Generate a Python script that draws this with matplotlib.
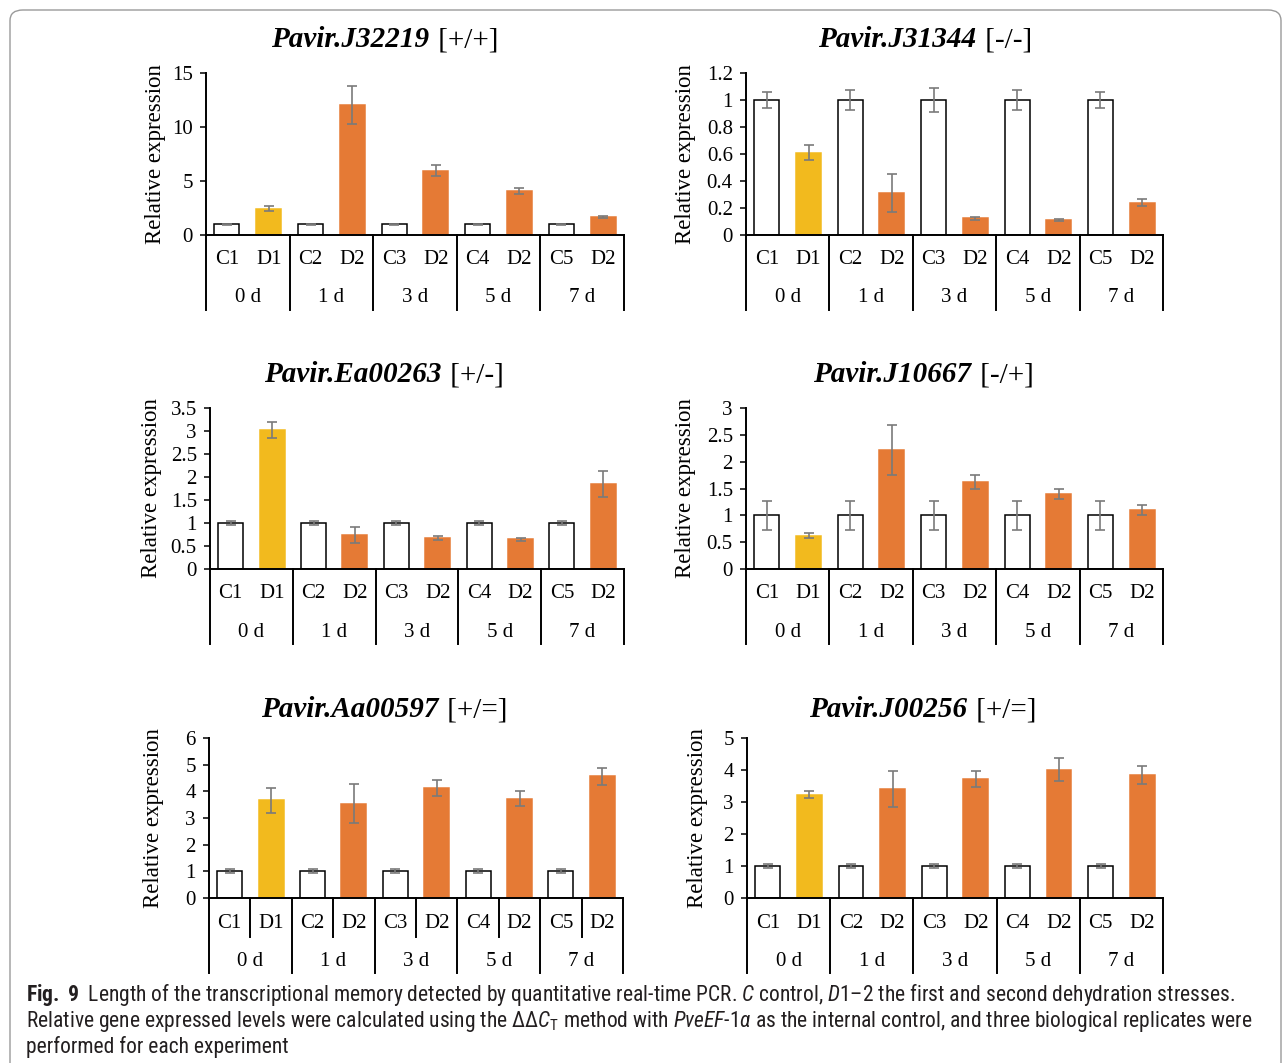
import numpy as np
import matplotlib
matplotlib.use('Agg')
import matplotlib.pyplot as plt
from matplotlib import font_manager, transforms
from matplotlib.patches import FancyBboxPatch

# data
cats = ['C1', 'D1', 'C2', 'D2', 'C3', 'D2', 'C4', 'D2', 'C5', 'D2']
days = ['0 d', '1 d', '3 d', '5 d', '7 d']

genes = ['Pavir.J32219', 'Pavir.J31344', 'Pavir.Ea00263',
         'Pavir.J10667', 'Pavir.Aa00597', 'Pavir.J00256']
marks = ['[+/+]', '[-/-]', '[+/-]', '[-/+]', '[+/=]', '[+/=]']

j32219 = [1, 2.45, 1, 12.0, 1, 5.95, 1, 4.08, 1, 1.67]
j32219_err = [0.06, 0.27, 0.06, 1.75, 0.06, 0.5, 0.06, 0.25, 0.06, 0.12]

j31344 = [1, 0.61, 1, 0.31, 1, 0.124, 1, 0.114, 1, 0.24]
j31344_err = [0.06, 0.055, 0.077, 0.14, 0.09, 0.01, 0.077, 0.008, 0.06, 0.027]

ea00263 = [1, 3.02, 1, 0.74, 1, 0.67, 1, 0.645, 1, 1.85]
ea00263_err = [0.045, 0.18, 0.045, 0.17, 0.045, 0.05, 0.045, 0.035, 0.045, 0.29]

j10667 = [1, 0.62, 1, 2.22, 1, 1.62, 1, 1.40, 1, 1.10]
j10667_err = [0.27, 0.05, 0.27, 0.47, 0.27, 0.13, 0.27, 0.1, 0.27, 0.1]

aa00597 = [1, 3.66, 1, 3.54, 1, 4.13, 1, 3.72, 1, 4.56]
aa00597_err = [0.07, 0.48, 0.07, 0.73, 0.07, 0.29, 0.07, 0.28, 0.07, 0.31]

j00256 = [1, 3.23, 1, 3.41, 1, 3.72, 1, 4.01, 1, 3.83]
j00256_err = [0.07, 0.1, 0.07, 0.56, 0.07, 0.26, 0.07, 0.36, 0.07, 0.28]

values = [j32219, j31344, ea00263, j10667, aa00597, j00256]
errors = [j32219_err, j31344_err, ea00263_err, j10667_err, aa00597_err, j00256_err]
yticks = [[0, 5, 10, 15],
          [0, 0.2, 0.4, 0.6, 0.8, 1, 1.2],
          [0, 0.5, 1, 1.5, 2, 2.5, 3, 3.5],
          [0, 0.5, 1, 1.5, 2, 2.5, 3],
          [0, 1, 2, 3, 4, 5, 6],
          [0, 1, 2, 3, 4, 5]]

# layout (pixels): axes left, right, top, zero line ; title centre x, title baseline ; ylabel centre x
boxes = [(206, 624, 73, 235), (746, 1163, 73, 235),
         (210, 624, 408, 569), (746, 1163, 408, 569),
         (209, 623, 738, 898), (747, 1163, 738, 898)]
title_pos = [(384, 47), (924, 47), (383, 382), (922, 382), (383, 717), (922, 717)]
ylab_x = [156, 686, 152, 686, 154, 698]

W, H = 1284, 1063
serif = 'Liberation Serif'
white = 'white'
yellow = '#F2BA1E'
orange = '#E57A35'
grey = '#7a7a7a'

names = {f.name for f in font_manager.fontManager.ttflist}
capfont = 'Noto Sans'
for cand in ['Liberation Sans Narrow', 'Roboto Condensed', 'Open Sans Condensed', 'Noto Sans']:
    if cand in names:
        capfont = cand
        break

plt.rcParams['mathtext.fontset'] = 'custom'
plt.rcParams['mathtext.rm'] = capfont
plt.rcParams['mathtext.it'] = capfont + ':italic'
plt.rcParams['mathtext.bf'] = capfont + ':bold'

fig = plt.figure(figsize=(W / 100, H / 100), dpi=100)
r = fig.canvas.get_renderer()

def fx(x):
    return x / W

def fy(y):
    return 1 - y / H

# rounded border of the figure box
border = FancyBboxPatch((fx(10), fy(1100)), fx(1271), (1090) / H,
                        boxstyle='round,pad=0,rounding_size=0.01',
                        transform=fig.transFigure, fill=False,
                        edgecolor='#9a9a9a', linewidth=1.0)
fig.patches.append(border)

bar_colors = [white, yellow] + [white, orange] * 4

for k in range(6):
    x0, x1, yt, yb = boxes[k]
    ax = fig.add_axes([fx(x0), fy(yb), (x1 - x0) / W, (yb - yt) / H])
    hpx = yb - yt
    xs = np.arange(len(cats))
    for i in xs:
        c = bar_colors[i]
        ax.bar(i, values[k][i], width=0.6, color=c,
               edgecolor='black' if c == white else c,
               linewidth=1.1, zorder=2)
    ax.errorbar(xs, values[k], yerr=errors[k], fmt='none', ecolor=grey,
                elinewidth=1.2, capsize=3.6, capthick=1.2, zorder=3)

    ax.set_xlim(-0.5, len(cats) - 0.5)
    ax.set_ylim(0, yticks[k][-1])
    ax.set_yticks(yticks[k])
    ax.set_yticklabels(['%g' % v for v in yticks[k]], fontsize=15, family=serif)
    ax.set_xticks([])
    ax.tick_params(axis='y', direction='out', length=4.5, width=1.1, pad=5)
    for s in ['top', 'right']:
        ax.spines[s].set_visible(False)
    for s in ['left', 'bottom']:
        ax.spines[s].set_linewidth(1.4)
    ax.patch.set_alpha(0)

    tr = ax.get_xaxis_transform()
    # category separators
    for g in range(len(days) + 1):
        xb = g * 2 - 0.5
        ax.plot([xb, xb], [0, -75 / hpx], color='black', lw=1.4,
                transform=tr, clip_on=False)
    if k == 4:
        for g in range(len(days)):
            xb = g * 2 + 0.5
            ax.plot([xb, xb], [0, -39 / hpx], color='black', lw=1.4,
                    transform=tr, clip_on=False)
    for i, c in enumerate(cats):
        ax.text(i, -25 / hpx, c, transform=tr, ha='center', va='center',
                fontsize=15, family=serif)
    for g, d in enumerate(days):
        ax.text(g * 2 + 0.5, -63 / hpx, d, transform=tr, ha='center',
                va='center', fontsize=15, family=serif)

    fig.text(fx(ylab_x[k]), fy((yt + yb) / 2), 'Relative expression',
             rotation=90, ha='center', va='center', fontsize=16.5, family=serif)

    # title: italic bold gene name + plain mark
    cx, by = title_pos[k]
    t1 = fig.text(0, fy(by), genes[k], fontsize=21, fontweight='bold',
                  fontstyle='italic', family=serif, va='baseline', ha='left')
    t2 = fig.text(0, fy(by), ' ' + marks[k], fontsize=21, family=serif,
                  va='baseline', ha='left')
    w1 = t1.get_window_extent(r).width
    w2 = t2.get_window_extent(r).width
    start = cx - (w1 + w2) / 2
    t1.set_x(fx(start))
    t2.set_x(fx(start + w1 + 2))

# caption
lines = [
    r'$\mathbf{Fig.\ 9}$  Length of the transcriptional memory detected by quantitative real-time PCR. '
    r'$\mathit{C}$ control, $\mathit{D1}$–$\mathit{2}$ the first and second dehydration stresses.',
    r'Relative gene expressed levels were calculated using the ΔΔ$\mathit{C}_{\mathrm{T}}$ method with '
    r'$\mathit{PveEF}$-$\mathit{1α}$ as the internal control, and three biological replicates were',
    'performed for each experiment',
]
base = [1001, 1027, 1053]
probe = fig.text(fx(26), fy(base[0]), lines[0], fontsize=12, family=capfont,
                 va='baseline', color='#231f20')
wline = probe.get_window_extent(r).width
fs = 12 * 1207 / wline
probe.set_fontsize(fs)
for ln, b in zip(lines[1:], base[1:]):
    fig.text(fx(26), fy(b), ln, fontsize=fs, family=capfont, va='baseline',
             color='#231f20')

fig.savefig('out.png', dpi=100)
